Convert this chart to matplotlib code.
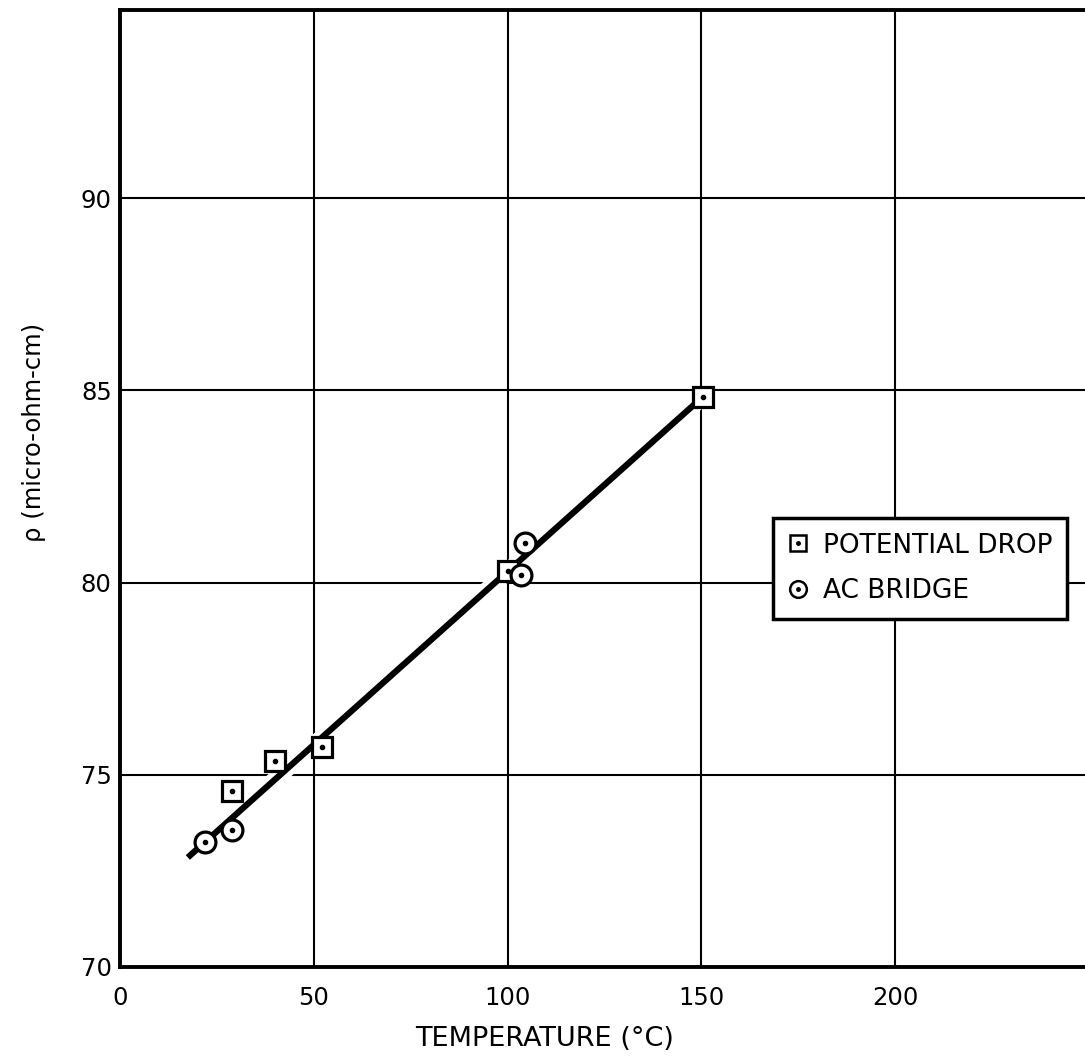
import matplotlib
matplotlib.use("Agg")
import matplotlib.pyplot as plt
import matplotlib.patheffects as pe
from matplotlib.legend_handler import HandlerTuple
from matplotlib.lines import Line2D

# potential drop measurements (square symbols)
pd_temp = [29.0, 40.0, 52.0, 100.0, 150.5]
pd_rho = [74.58, 75.36, 75.73, 80.31, 84.84]

# ac bridge measurements (circle symbols)
ac_temp = [22.0, 29.0, 103.5, 104.5]
ac_rho = [73.26, 73.57, 80.21, 81.04]

# drawn straight line through the data
fit_temp = [17.5, 150.0]
fit_rho = [72.85, 84.8]

x_ticks = [0, 50, 100, 150, 200]
y_ticks = [70, 75, 80, 85, 90]

fig = plt.figure(figsize=(10.85, 10.61), dpi=100)
ax = fig.add_axes([0.1106, 0.0886, 0.8894, 0.902])

ax.set_xlim(0, 249)
ax.set_ylim(70, 94.9)
ax.set_xticks(x_ticks)
ax.set_yticks(y_ticks)
ax.tick_params(length=0, labelsize=17.5)
ax.tick_params(axis="x", pad=14)
ax.tick_params(axis="y", pad=6)
ax.grid(True, color="black", linewidth=1.5)
ax.set_axisbelow(True)

for s in ["left", "bottom", "top"]:
    ax.spines[s].set_linewidth(2.8)
ax.spines["right"].set_visible(False)

# line with a white halo, like the inked original which breaks the grid
ax.plot(fit_temp, fit_rho, color="black", linewidth=4.5, solid_capstyle="butt", zorder=3,
        path_effects=[pe.Stroke(linewidth=12, foreground="white"), pe.Normal()])

ms = 14
ax.plot(pd_temp, pd_rho, linestyle="none", marker="s", markersize=ms, markerfacecolor="white",
        markeredgecolor="black", markeredgewidth=2.3, zorder=4)
ax.plot(ac_temp, ac_rho, linestyle="none", marker="o", markersize=ms + 1, markerfacecolor="white",
        markeredgecolor="black", markeredgewidth=2.3, zorder=4)
ax.plot(pd_temp + ac_temp, pd_rho + ac_rho, linestyle="none", marker="o", markersize=3,
        color="black", zorder=5)

ax.set_xlabel("TEMPERATURE (°C)", fontsize=19.5)
ax.xaxis.set_label_coords(0.44, -0.062)
ax.set_ylabel("ρ (micro-ohm-cm)", fontsize=17.5)
ax.yaxis.set_label_coords(-0.077, 0.559)

# legend symbols: open marker with a centre dot
sq = Line2D([], [], linestyle="none", marker="s", markersize=11, markerfacecolor="white",
            markeredgecolor="black", markeredgewidth=1.8)
ci = Line2D([], [], linestyle="none", marker="o", markersize=12, markerfacecolor="white",
            markeredgecolor="black", markeredgewidth=1.8)
dot = Line2D([], [], linestyle="none", marker="o", markersize=2.5, color="black")
leg = ax.legend([(sq, dot), (ci, dot)], ["POTENTIAL DROP", "AC BRIDGE"],
                handler_map={tuple: HandlerTuple(ndivide=1)},
                loc="upper left", bbox_to_anchor=(0.677, 0.469), borderaxespad=0,
                fontsize=19, frameon=True, fancybox=False, edgecolor="black", framealpha=1,
                handlelength=0.8, handletextpad=0.55, borderpad=0.55, labelspacing=0.75)
leg.get_frame().set_linewidth(2.5)
leg.set_zorder(6)

fig.savefig("out.png", dpi=100)
